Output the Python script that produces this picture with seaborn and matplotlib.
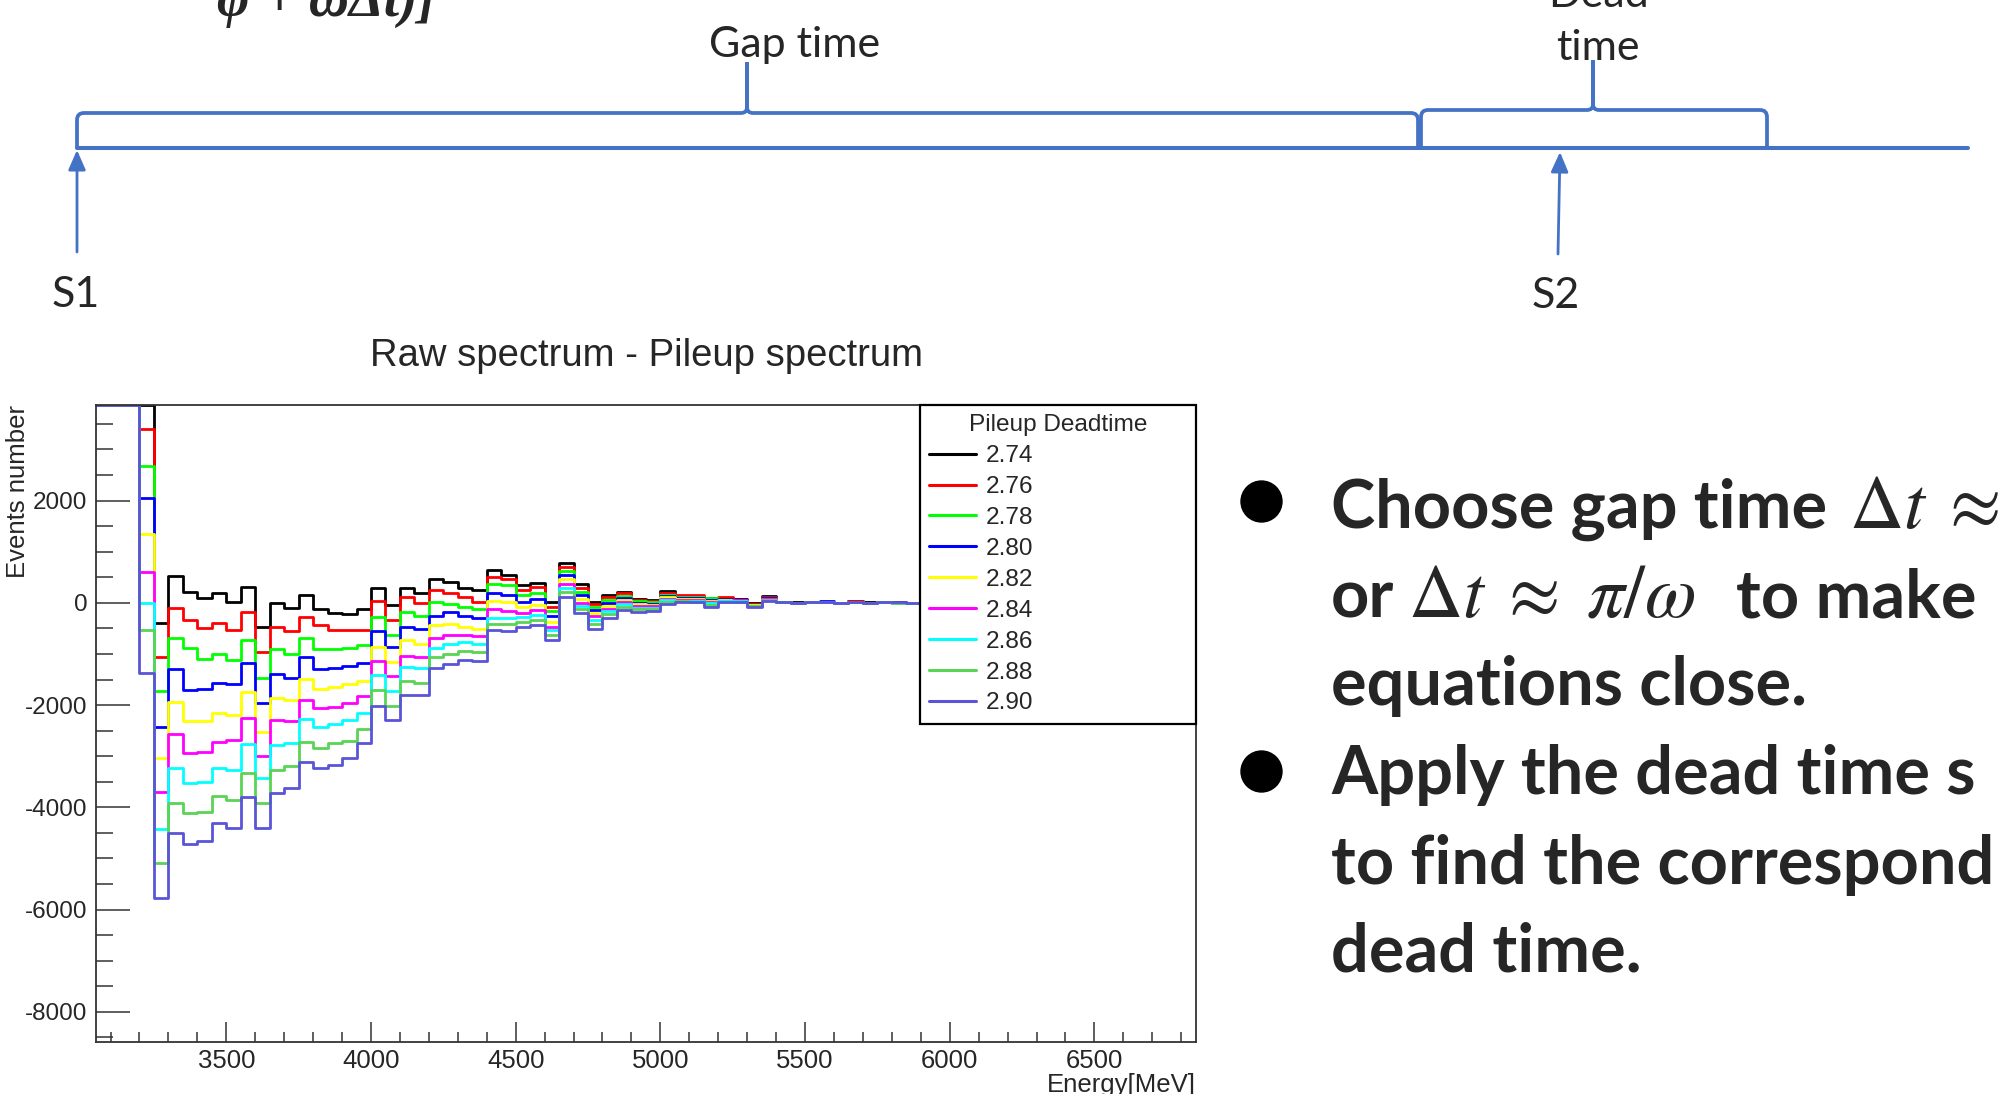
import numpy as np
import pandas as pd
import matplotlib
matplotlib.use("Agg")
import matplotlib.pyplot as plt
import seaborn as sns
from matplotlib.path import Path
from matplotlib.patches import PathPatch, FancyArrowPatch
from matplotlib.lines import Line2D
from matplotlib.ticker import MultipleLocator

W_PX, H_PX = 1998, 1094
OUTPUT_FIG = "out.png"

# 50 MeV bins, first bin edge at 3050 MeV
BIN_START = 3050
BIN_WIDTH = 50

DEADTIMES = ["2.74", "2.76", "2.78", "2.80", "2.82", "2.84", "2.86", "2.88", "2.90"]
LINE_COLORS = ["#000000", "#ff0000", "#00ff00", "#0000ff", "#ffff00",
               "#ff00ff", "#00ffff", "#59d454", "#5954d8"]

# raw - pileup per bin (first bins are off scale at the top)
dt_274 = [3870, 3870, 3870, 3870, -403, 529, 203, 86, 183, 20,
          301, -469, -12, -100, 151, -123, -195, -221, -123, 300,
          -45, 300, 183, 457, 411, 294, 248, 652, 554, 346,
          398, 20, 783, 365, 20, 150, 215, 85, 52, 235,
          130, 120, 86, 90, 66, -12, 131, 25, 10, 21,
          20, -5, 30, 8, 15, 8, -5, 0, 0, 0,
          0]
dt_276 = [3870, 3870, 3870, 3391, -1068, -110, -338, -501, -403, -534,
          -175, -958, -475, -550, -270, -436, -530, -530, -530, 45,
          -339, 105, 0, 248, 183, 105, 20, 509, 476, 248,
          313, -78, 704, 294, -26, 105, 183, 65, 33, 196,
          151, 151, 70, 105, 50, -25, 110, 20, 0, 15,
          15, -5, 40, 0, 15, 5, -5, 0, 0, 0,
          0]
dt_278 = [3870, 3870, 3870, 2681, -1720, -697, -892, -1108, -1010, -1121,
          -729, -1466, -900, -1000, -697, -912, -912, -879, -827, -270,
          -620, -176, -261, 20, -26, -78, -111, 365, 346, 150,
          202, -163, 626, 215, -78, 52, 137, 33, 7, 163,
          120, 110, 86, 80, 40, -35, 95, 15, -5, 15,
          15, -8, 25, -2, 12, 5, -8, 0, 0, 0,
          0]
dt_280 = [3870, 3870, 3870, 2042, -2425, -1303, -1707, -1694, -1564, -1597,
          -1186, -1968, -1394, -1479, -1068, -1303, -1270, -1238, -1173, -550,
          -860, -482, -521, -261, -176, -261, -306, 183, 163, 20,
          85, -261, 541, 163, -143, 0, 98, 0, -13, 131,
          100, 95, 60, 70, 60, -45, 90, 20, -8, 18,
          34, -10, 20, -5, 10, 2, -8, 0, 0, 0,
          0]
dt_282 = [3870, 3870, 3870, 1337, -3044, -1936, -2314, -2314, -2151, -2196,
          -1740, -2535, -1865, -1895, -1499, -1688, -1642, -1590, -1531, -860,
          -1154, -730, -808, -437, -404, -482, -502, 39, 20, -78,
          -45, -371, 457, 85, -195, -58, 52, -32, -45, 105,
          80, 75, 40, 60, 45, -50, 80, 20, -8, 18,
          20, -10, 15, -5, 10, 2, -10, 0, 0, 0,
          0]
dt_284 = [3870, 3870, 3870, 594, -3696, -2575, -2946, -2927, -2718, -2685,
          -2262, -2998, -2300, -2310, -1903, -2066, -2033, -1955, -1825, -1133,
          -1428, -1043, -1069, -684, -632, -632, -645, -130, -156, -195,
          -143, -469, 378, 0, -261, -111, 7, -65, -65, 78,
          60, 55, 20, 45, 55, -55, 70, 20, -10, 15,
          15, -10, 12, -8, 21, 2, -10, 0, 0, 0,
          0]
dt_286 = [3870, 3870, 3870, -12, -4426, -3227, -3533, -3500, -3240, -3272,
          -2770, -3435, -2780, -2750, -2281, -2424, -2372, -2294, -2151, -1414,
          -1728, -1252, -1271, -880, -808, -763, -808, -287, -287, -274,
          -241, -534, 294, -65, -326, -156, -32, -91, -91, 52,
          40, 30, 0, 35, 30, -60, 60, 21, -10, 20,
          12, -10, 10, -8, 15, 2, -10, 0, 0, 0,
          0]
dt_288 = [3870, 3870, 3870, -534, -5098, -3911, -4120, -4100, -3781, -3850,
          -3324, -3920, -3265, -3190, -2730, -2840, -2750, -2705, -2477, -1700,
          -2017, -1532, -1565, -1056, -1004, -939, -958, -404, -404, -371,
          -339, -632, 215, -130, -404, -221, -78, -124, -111, 26,
          30, 20, -40, 25, 25, -70, 50, 21, -12, 20,
          10, -12, 8, -10, 15, 5, -12, 0, 0, 0,
          0]
dt_290 = [3870, 3870, 3870, -1381, -5782, -4498, -4720, -4661, -4315, -4397,
          -3800, -4397, -3729, -3631, -3119, -3240, -3174, -3044, -2750, -2014,
          -2294, -1793, -1806, -1284, -1199, -1121, -1134, -534, -547, -482,
          -437, -730, 118, -208, -502, -306, -143, -176, -156, -13,
          21, 8, -77, 21, 21, -77, 40, 21, -12, 21,
          8, -12, 8, -12, 21, 8, -12, 0, 0, 0,
          0]

BLUE = "#4472C4"
SLIDE_FONT = ["Lato", "DejaVu Sans"]
BULLET_SIZE = 48
MATH_SIZE = 54


def fx(x):
    return x / W_PX


def fy(y):
    return 1 - y / H_PX


def brace(fig, x0, x1, xm, yb, yt, yp, r=7, r2=6):
    pts = [(x0, yb), (x0, yt + r), (x0, yt), (x0 + r, yt),
           (xm - r2, yt), (xm, yt), (xm, yt - r2), (xm, yp),
           (xm, yp), (xm, yt - r2), (xm, yt), (xm + r2, yt),
           (x1 - r, yt), (x1, yt), (x1, yt + r), (x1, yb)]
    codes = [Path.MOVETO, Path.LINETO, Path.CURVE3, Path.CURVE3,
             Path.LINETO, Path.CURVE3, Path.CURVE3, Path.LINETO,
             Path.MOVETO, Path.LINETO, Path.CURVE3, Path.CURVE3,
             Path.LINETO, Path.CURVE3, Path.CURVE3, Path.LINETO]
    verts = [(fx(a), fy(b)) for a, b in pts]
    fig.add_artist(PathPatch(Path(verts, codes), fill=False, edgecolor=BLUE,
                             lw=2.7, transform=fig.transFigure))


def arrow(fig, xa, ya, xb, yb):
    fig.add_artist(FancyArrowPatch((fx(xa), fy(ya)), (fx(xb), fy(yb)),
                                   transform=fig.transFigure,
                                   arrowstyle="-|>,head_length=0.8,head_width=0.35",
                                   mutation_scale=15, color=BLUE, lw=2,
                                   shrinkA=0, shrinkB=0))


def text_run(fig, x_px, y_px, pieces):
    # pieces of one line put side by side on a common baseline
    renderer = fig.canvas.get_renderer()
    x = x_px
    for s, size, gap in pieces:
        kw = dict(ha="left", va="baseline", fontsize=size)
        if not s.startswith("$"):
            kw.update(fontweight="bold", family=SLIDE_FONT)
        t = fig.text(fx(x), fy(y_px), s, **kw)
        x = t.get_window_extent(renderer=renderer).x1 + gap


def main():
    sns.set_style("ticks")
    plt.rcParams["font.family"] = ["Liberation Sans", "DejaVu Sans"]
    plt.rcParams["axes.unicode_minus"] = False
    plt.rcParams["mathtext.fontset"] = "stix"

    series = [dt_274, dt_276, dt_278, dt_280, dt_282, dt_284, dt_286, dt_288, dt_290]
    edges = BIN_START + BIN_WIDTH * np.arange(len(dt_274) + 1)
    frames = []
    for label, vals in zip(DEADTIMES, series):
        frames.append(pd.DataFrame({"energy": edges,
                                    "events": list(vals) + [vals[-1]],
                                    "deadtime": label}))
    df = pd.concat(frames, ignore_index=True)

    fig = plt.figure(figsize=(W_PX / 100, H_PX / 100), dpi=100)
    fig.patch.set_facecolor("white")
    ax = fig.add_axes([95.5 / W_PX, 52 / H_PX, 1100.5 / W_PX, 637 / H_PX])

    sns.lineplot(data=df, x="energy", y="events", hue="deadtime",
                 hue_order=DEADTIMES, palette=LINE_COLORS, estimator=None,
                 errorbar=None, drawstyle="steps-post", linewidth=2.0, ax=ax)

    ax.set_xlim(3048, 6851)
    ax.set_ylim(-8590, 3870)
    ax.xaxis.set_major_locator(MultipleLocator(500))
    ax.xaxis.set_minor_locator(MultipleLocator(100))
    ax.yaxis.set_major_locator(MultipleLocator(2000))
    ax.yaxis.set_minor_locator(MultipleLocator(500))
    ax.tick_params(which="both", direction="in", color="#333333",
                   bottom=True, left=True, top=False, right=False)
    ax.tick_params(axis="y", which="major", length=24.5, width=1.1, labelsize=17.5, pad=6)
    ax.tick_params(axis="y", which="minor", length=12, width=1.1)
    ax.tick_params(axis="x", which="major", length=14.4, width=1.1, labelsize=18.5, pad=5)
    ax.tick_params(axis="x", which="minor", length=7.2, width=1.1)
    for sp in ax.spines.values():
        sp.set_visible(True)
        sp.set_color("#333333")
        sp.set_linewidth(1.3)

    ax.set_xlabel("Energy[MeV]", fontsize=18.5, loc="right")
    ax.xaxis.set_label_coords(1.0, -0.0487)
    ax.set_ylabel("Events number", fontsize=18.5, loc="top")
    ax.yaxis.set_label_coords(-0.0595, 1.0)

    sns.move_legend(ax, "upper left", bbox_to_anchor=(0.7492, 0.5008, 0.2508, 0.4992),
                    mode="expand", borderaxespad=0, title="Pileup Deadtime",
                    frameon=True, fancybox=False, edgecolor="black", framealpha=1,
                    fontsize=17.6, title_fontsize=17.6, labelspacing=0.36,
                    borderpad=0.38, handlelength=1.9, handletextpad=0.4)
    leg = ax.get_legend()
    leg.get_frame().set_linewidth(1.6)
    for h in leg.legend_handles:
        h.set_linewidth(2.2)

    fig.text(fx(646), fy(356), "Raw spectrum - Pileup spectrum",
             ha="center", va="center", fontsize=27.5)

    # slide decorations above the chart
    fig.text(fx(217), fy(16), "\u03c6 + \u03c9\u0394t)]", ha="left", va="baseline",
             fontsize=40, family=["Liberation Serif", "DejaVu Serif"],
             fontweight="bold", fontstyle="italic")
    fig.add_artist(Line2D([fx(77), fx(1968)], [fy(148), fy(148)], color=BLUE, lw=2.9,
                          transform=fig.transFigure))
    brace(fig, 77, 1418, 747, 148, 113, 62)
    brace(fig, 1421, 1767, 1593, 148, 110, 60)
    arrow(fig, 77, 252, 77, 150)
    arrow(fig, 1558, 254, 1560, 152)
    fig.text(fx(795), fy(57), "Gap time", ha="center", va="baseline",
             fontsize=31, family=SLIDE_FONT)
    fig.text(fx(1598), fy(7), "Dead", ha="center", va="baseline",
             fontsize=31, family=SLIDE_FONT)
    fig.text(fx(1598), fy(60), "time", ha="center", va="baseline",
             fontsize=31, family=SLIDE_FONT)
    fig.text(fx(76), fy(307), "S1", ha="center", va="baseline", fontsize=31, family=SLIDE_FONT)
    fig.text(fx(1556), fy(308), "S2", ha="center", va="baseline", fontsize=31, family=SLIDE_FONT)

    # bullet text on the right
    text_run(fig, 1331, 528, [("Choose gap time", BULLET_SIZE, 22),
                              (r"$\Delta t\;\approx$", MATH_SIZE, 0)])
    text_run(fig, 1331, 617, [("or", BULLET_SIZE, 14),
                              (r"$\Delta t\;\approx\;\pi/\omega$", MATH_SIZE, 40),
                              ("to make", BULLET_SIZE, 0)])
    rest = ["equations close.", "Apply the dead time s", "to find the correspond", "dead time."]
    for txt, yb in zip(rest, [705, 794, 884, 972]):
        fig.text(fx(1331), fy(yb), txt, ha="left", va="baseline", fontsize=BULLET_SIZE,
                 fontweight="bold", family=SLIDE_FONT)
    for yc in [501, 771]:
        fig.add_artist(Line2D([fx(1261)], [fy(yc)], marker="o", markersize=29.5,
                              color="black", transform=fig.transFigure))

    fig.savefig(OUTPUT_FIG, dpi=100)
    plt.close(fig)


if __name__ == "__main__":
    main()
